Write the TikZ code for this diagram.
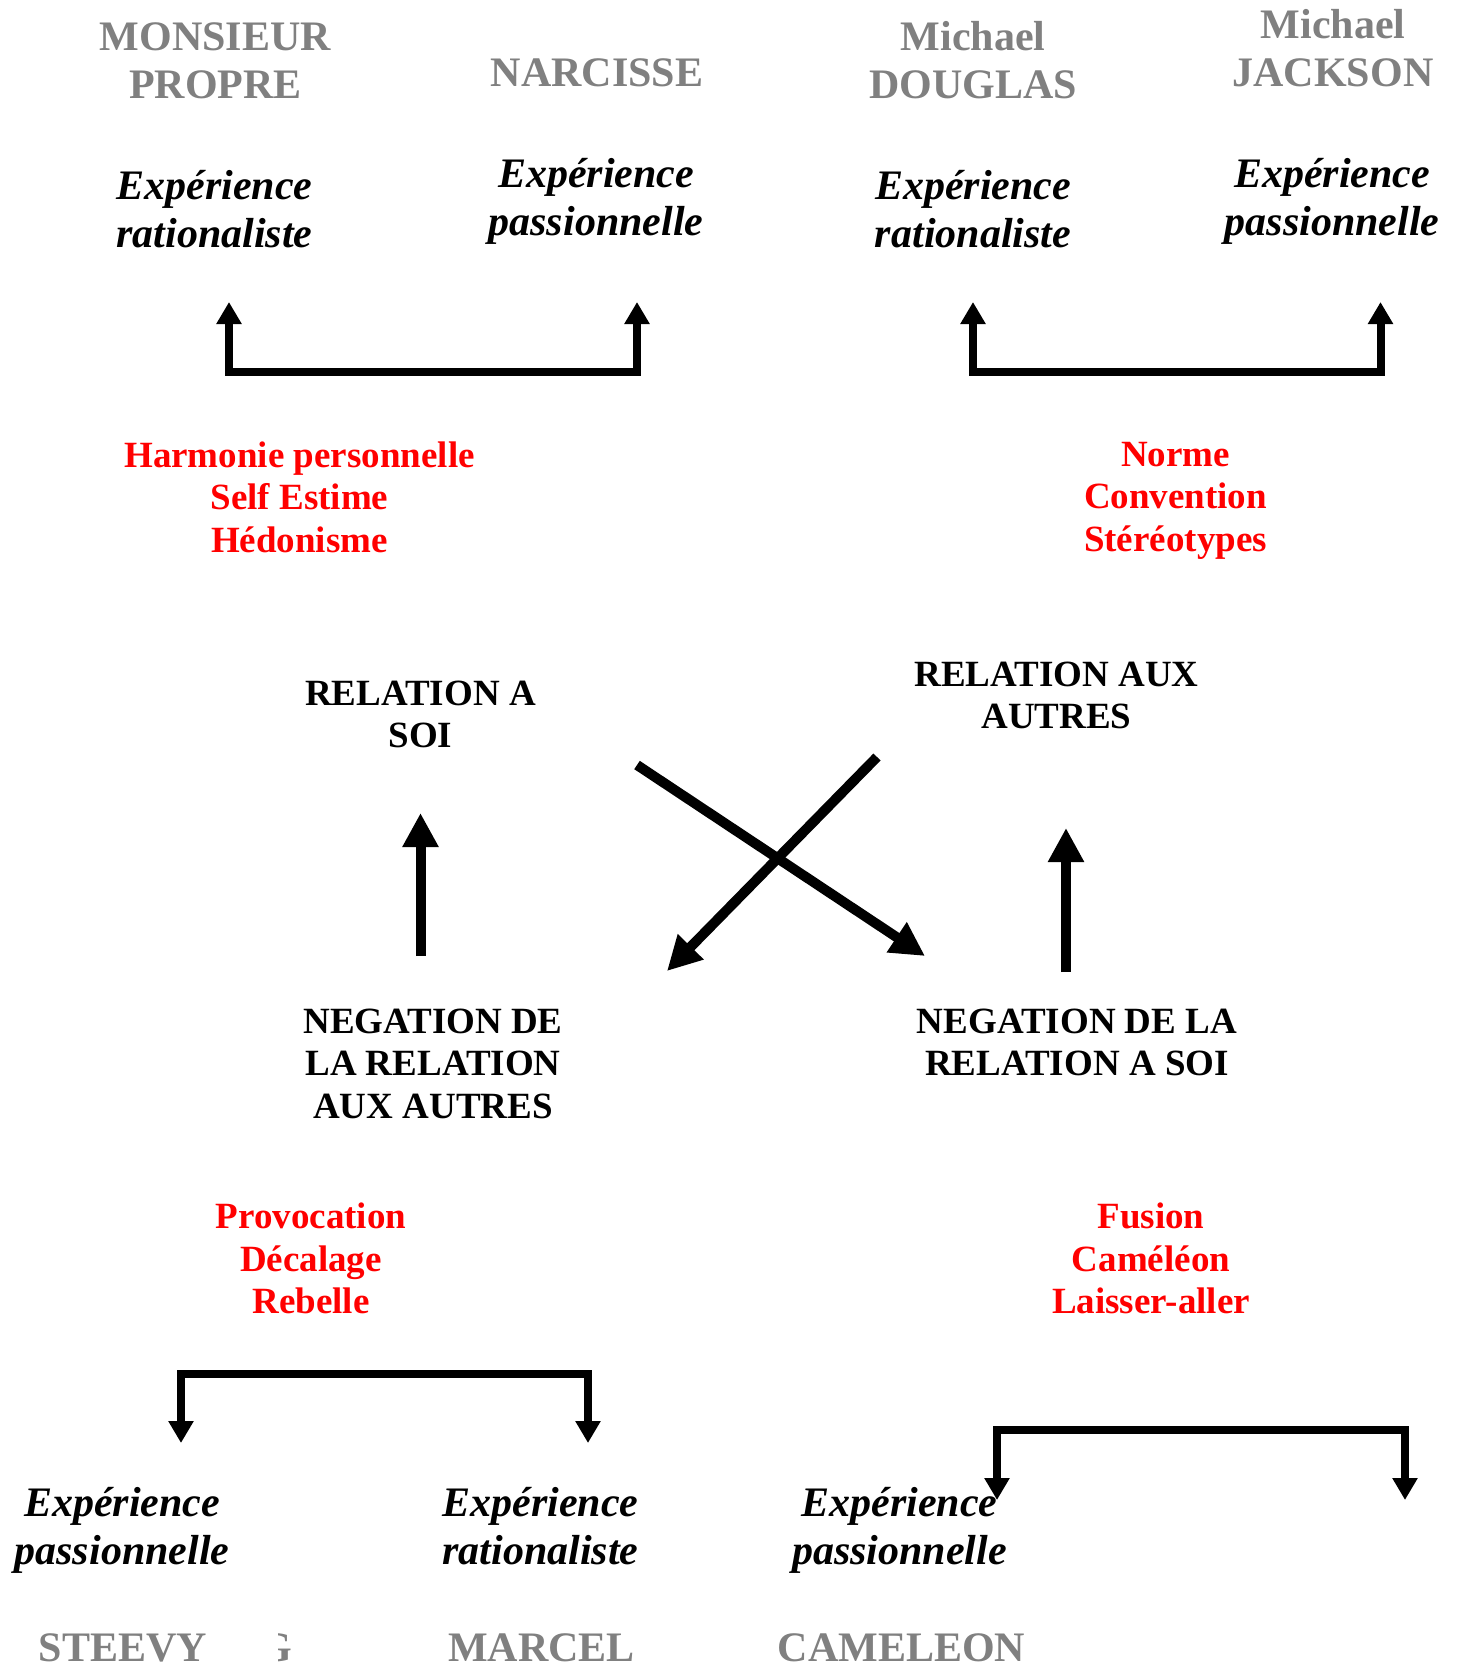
\documentclass[tikz,border=0pt]{standalone}
\usepackage{fontspec}
\setmainfont{Liberation Serif}
\usetikzlibrary{arrows.meta}
\definecolor{hdgray}{HTML}{808080}
\definecolor{txtred}{HTML}{FF0000}
\tikzset{
  txt/.style={inner sep=0pt, outer sep=0pt, align=center, anchor=base},
  hdr/.style={txt, text=hdgray, font=\bfseries\fontsize{42}{48.3}\selectfont},
  exper/.style={txt, text=black, font=\bfseries\itshape\fontsize{42}{48.3}\selectfont},
  redlist/.style={txt, text=txtred, font=\bfseries\fontsize{37}{42.5}\selectfont},
  pole/.style={txt, text=black, font=\bfseries\fontsize{37}{42.5}\selectfont},
  brk/.style={line width=8pt, line join=miter, {Triangle[length=22pt,width=24pt]}-{Triangle[length=22pt,width=24pt]}},
  bigarrow/.style={line width=10pt, -{Triangle[length=34pt,width=34pt]}}
}
\begin{document}
\begin{tikzpicture}[x=1pt,y=-1pt]
\useasboundingbox[fill=white] (0,0) rectangle (1458,1665);
% top headers (base anchor = baseline of the last line)
\node[hdr] (monsieur) at (215.5,98.3) {MONSIEUR\\PROPRE};
\node[hdr] (narcisse) at (597,86) {NARCISSE};
\node[hdr] (douglas) at (973,98.3) {Michael\\DOUGLAS};
\node[hdr] (jackson) at (1333,86.3) {Michael\\JACKSON};
% top experiences
\node[exper] (e1) at (214.5,247.3) {Expérience\\rationaliste};
\node[exper] (e2) at (596,235.8) {Expérience\\passionnelle};
\node[exper] (e3) at (973,247.3) {Expérience\\rationaliste};
\node[exper] (e4) at (1332,235.8) {Expérience\\passionnelle};
% red lists top
\node[redlist] (harm) at (299.5,552) {Harmonie personnelle\\Self Estime\\Hédonisme};
\node[redlist] (norme) at (1175.5,551) {Norme\\Convention\\Stéréotypes};
% poles
\node[pole] (rsoi) at (420.5,747.5) {RELATION A\\SOI};
\node[pole] (raut) at (1056.5,728.5) {RELATION AUX\\AUTRES};
\node[pole] (naut) at (433,1118) {NEGATION DE\\LA RELATION\\AUX AUTRES};
\node[pole] (nsoi) at (1077,1075.5) {NEGATION DE LA\\RELATION A SOI};
% red lists bottom
\node[redlist] (provoc) at (311,1313.5) {Provocation\\Décalage\\Rebelle};
\node[redlist] (fusion) at (1151,1313.5) {Fusion\\Caméléon\\Laisser-aller};
% bottom experiences
\node[exper] (e5) at (122,1564.8) {Expérience\\passionnelle};
\node[exper] (e6) at (540.5,1564.8) {Expérience\\rationaliste};
\node[exper] (e7) at (899.5,1564.8) {Expérience\\passionnelle};
% bottom headers
\node[hdr] (steevy) at (123,1661) {STEEVY};
\begin{scope}
\clip (278,1600) rectangle (300,1665);
\node[hdr, anchor=base west] (gfrag) at (259,1661) {G};
\end{scope}
\node[hdr] (marcel) at (541.5,1661) {MARCEL};
\node[hdr] (cameleon) at (901.5,1661) {CAMELEON};
% bracket coordinates
\coordinate (a1) at (229,302); \coordinate (a2) at (229,372);
\coordinate (a3) at (637,372); \coordinate (a4) at (637,302);
\coordinate (b1) at (973,302); \coordinate (b2) at (973,372);
\coordinate (b3) at (1380.5,372); \coordinate (b4) at (1380.5,302);
\coordinate (c1) at (181,1443); \coordinate (c2) at (181,1374);
\coordinate (c3) at (588,1374); \coordinate (c4) at (588,1443);
\coordinate (d1) at (997,1500); \coordinate (d2) at (997,1429.5);
\coordinate (d3) at (1405,1429.5); \coordinate (d4) at (1405,1500);
\draw[brk] (a1) -- (a2) -- (a3) -- (a4);
\draw[brk] (b1) -- (b2) -- (b3) -- (b4);
\draw[brk] (c1) -- (c2) -- (c3) -- (c4);
\draw[brk] (d1) -- (d2) -- (d3) -- (d4);
% central arrows
\coordinate (v1s) at (420.5,956); \coordinate (v1e) at (420.5,813);
\coordinate (v2s) at (1066,972); \coordinate (v2e) at (1066,828);
\coordinate (x1s) at (637,765); \coordinate (x1e) at (925,956);
\coordinate (x2s) at (877,757); \coordinate (x2e) at (667,971);
\draw[bigarrow] (v1s) -- (v1e);
\draw[bigarrow] (v2s) -- (v2e);
\draw[bigarrow] (x1s) -- (x1e);
\draw[bigarrow] (x2s) -- (x2e);
\end{tikzpicture}
\end{document}
